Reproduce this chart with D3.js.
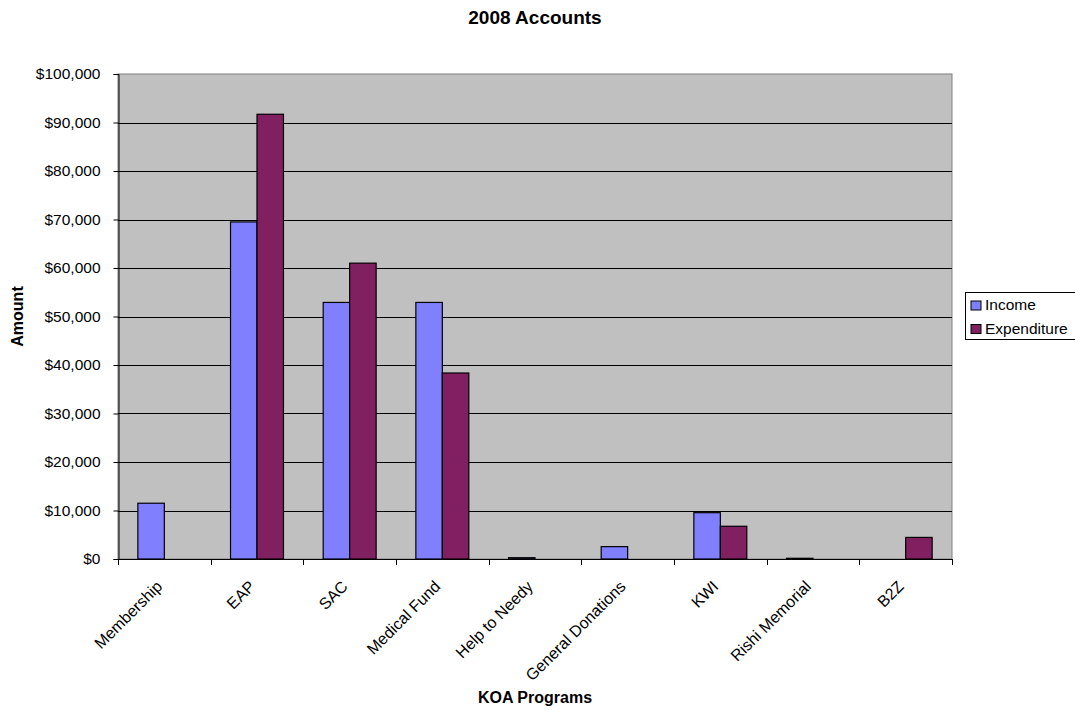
<!DOCTYPE html>
<html>
<head>
<meta charset="utf-8">
<script src="https://cdn.jsdelivr.net/npm/d3@7"></script>
<style>
  body { margin: 0; background: #fff; }
  text { font-family: "Liberation Sans", Arial, sans-serif; }
</style>
</head>
<body>
<svg id="chart"></svg>
<script>
const programs = ['Membership', 'EAP', 'SAC', 'Medical Fund', 'Help to Needy', 'General Donations', 'KWI', 'Rishi Memorial', 'B2Z'];
const income = [11500, 69500, 52900, 52900, 270, 2550, 9550, 150, 0];
const expenditure = [0, 91700, 61000, 38350, 0, 0, 6750, 0, 4450];
const seriesNames = ['Income', 'Expenditure'];
const seriesColors = ['#8080ff', '#802060'];
const yTicks = [0, 10000, 20000, 30000, 40000, 50000, 60000, 70000, 80000, 90000, 100000];

const width = 1075, height = 710;
const plot = { left: 118, right: 952, top: 74, bottom: 559 };

const svg = d3.select('#chart')
  .attr('width', width)
  .attr('height', height);

const x = d3.scaleBand()
  .domain(programs)
  .range([plot.left, plot.right])
  .paddingInner(0)
  .paddingOuter(0);
const barW = x.bandwidth() / 3.5;
const xs = d3.scaleBand()
  .domain(seriesNames)
  .range([barW * 0.75, barW * 2.75]);
const y = d3.scaleLinear()
  .domain([0, 100000])
  .range([plot.bottom, plot.top]);

// plot background
svg.append('rect')
  .attr('x', plot.left)
  .attr('y', plot.top)
  .attr('width', plot.right - plot.left)
  .attr('height', plot.bottom - plot.top)
  .style('fill', '#c0c0c0')
  .style('stroke', '#808080')
  .style('stroke-width', 1);

// gridlines
svg.append('g')
  .selectAll('line')
  .data(yTicks.filter(d => d > 0 && d < 100000))
  .enter()
    .append('line')
      .attr('x1', plot.left)
      .attr('x2', plot.right)
      .attr('y1', d => Math.round(y(d)) + 0.5)
      .attr('y2', d => Math.round(y(d)) + 0.5)
      .style('stroke', '#000')
      .style('stroke-width', 1);

// bars
const rows = programs.map((p, i) => ({ program: p, values: [income[i], expenditure[i]] }));
const groups = svg.append('g')
  .selectAll('g')
  .data(rows)
  .enter()
    .append('g')
      .attr('transform', d => `translate(${x(d.program)}, 0)`);
groups.selectAll('rect')
  .data(d => d.values.map((v, i) => ({ series: seriesNames[i], value: v, color: seriesColors[i] })))
  .enter()
    .filter(d => d.value > 0)
    .append('rect')
      .attr('x', d => xs(d.series))
      .attr('y', d => y(d.value))
      .attr('width', xs.bandwidth())
      .attr('height', d => Math.max(1, y(0) - y(d.value)))
      .style('fill', d => d.color)
      .style('stroke', '#000')
      .style('stroke-width', 1.2);

// y axis
const yAxis = d3.axisLeft(y)
  .tickValues(yTicks)
  .tickSize(5)
  .tickFormat(d => '$' + d3.format(',')(d));
const gy = svg.append('g')
  .attr('transform', `translate(${plot.left + 0.5}, 0)`)
  .call(yAxis);
gy.select('.domain').style('stroke', '#000');
gy.selectAll('.tick line').style('stroke', '#000');
gy.selectAll('.tick text')
  .attr('x', -18)
  .style('font-size', '15.5px')
  .style('fill', '#000');

// x axis
svg.append('line')
  .attr('x1', plot.left)
  .attr('x2', plot.right + 0.5)
  .attr('y1', plot.bottom + 0.5)
  .attr('y2', plot.bottom + 0.5)
  .style('stroke', '#000');
svg.append('g')
  .selectAll('line')
  .data(programs.concat(['_end']))
  .enter()
    .append('line')
      .attr('x1', (d, i) => Math.round(i < programs.length ? x(d) : plot.right) + 0.5)
      .attr('x2', (d, i) => Math.round(i < programs.length ? x(d) : plot.right) + 0.5)
      .attr('y1', plot.bottom)
      .attr('y2', plot.bottom + 6)
      .style('stroke', '#000');
svg.append('g')
  .selectAll('text')
  .data(programs)
  .enter()
    .append('text')
      .attr('transform', d => `translate(${x(d) + x.bandwidth() / 2 - 1}, ${plot.bottom + 28.5}) rotate(-45)`)
      .style('text-anchor', 'end')
      .style('font-size', '16px')
      .text(d => d);

// titles
svg.append('text')
  .attr('x', (plot.left + plot.right) / 2)
  .attr('y', 24)
  .style('text-anchor', 'middle')
  .style('font-size', '19px')
  .style('font-weight', 'bold')
  .text('2008 Accounts');
svg.append('text')
  .attr('x', (plot.left + plot.right) / 2)
  .attr('y', 703)
  .style('text-anchor', 'middle')
  .style('font-size', '16px')
  .style('font-weight', 'bold')
  .text('KOA Programs');
svg.append('text')
  .attr('transform', `translate(23, ${(plot.top + plot.bottom) / 2}) rotate(-90)`)
  .style('text-anchor', 'middle')
  .style('font-size', '16px')
  .style('font-weight', 'bold')
  .text('Amount');

// legend
const legend = svg.append('g')
  .attr('transform', 'translate(965.5, 292.5)');
legend.append('rect')
  .attr('width', 120)
  .attr('height', 47)
  .style('fill', '#fff')
  .style('stroke', '#000');
const item = legend.selectAll('g.item')
  .data(seriesNames)
  .enter()
    .append('g')
      .attr('class', 'item')
      .attr('transform', (_, i) => `translate(5.5, ${8.5 + i * 23.5})`);
item.append('rect')
  .attr('width', 10)
  .attr('height', 9)
  .style('fill', (_, i) => seriesColors[i])
  .style('stroke', '#000');
item.append('text')
  .attr('x', 14)
  .attr('y', 9)
  .style('font-size', '15.5px')
  .text(d => d);
</script>
</body>
</html>
